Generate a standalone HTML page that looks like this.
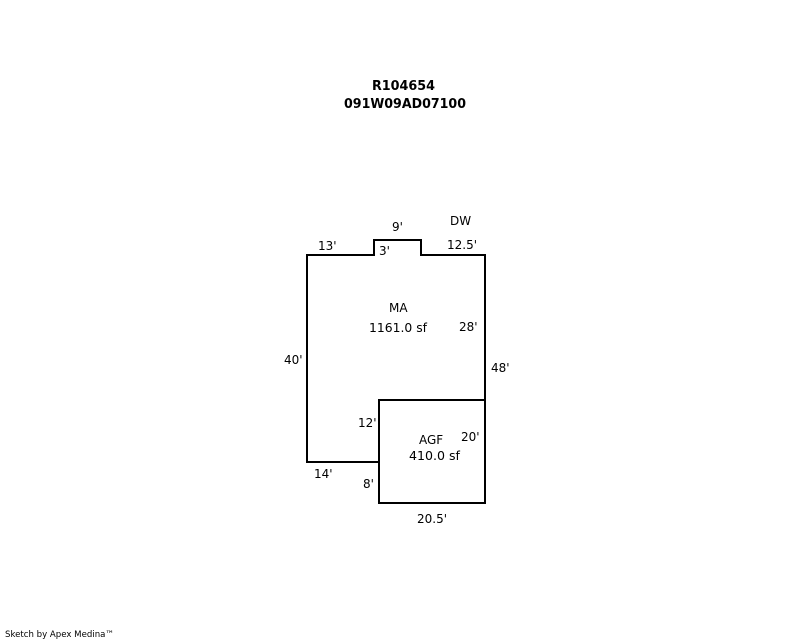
<!DOCTYPE html>
<html>
<head>
<meta charset="utf-8">
<style>
html,body{margin:0;padding:0;background:#fff;width:800px;height:640px;overflow:hidden}
svg{display:block}
text{font-family:"DejaVu Sans","Liberation Sans",sans-serif;font-size:12px;fill:#000}
.b{font-weight:bold;font-size:13px}
.s{font-size:9px}
</style>
</head>
<body>
<svg width="800" height="640" viewBox="0 0 800 640" xmlns="http://www.w3.org/2000/svg">
<g fill="none" stroke="#000" stroke-width="2" shape-rendering="crispEdges">
<path d="M307 255H374V240H421V255H485V503H379V462H307Z"/>
<path d="M379 462V400H485"/>
</g>
<text class="b" x="372" y="90" textLength="63" lengthAdjust="spacingAndGlyphs">R104654</text>
<text class="b" x="344" y="108" textLength="122" lengthAdjust="spacingAndGlyphs">091W09AD07100</text>
<text x="392" y="231">9'</text>
<text x="450" y="225">DW</text>
<text x="318" y="250">13'</text>
<text x="447" y="249">12.5'</text>
<text x="379" y="255">3'</text>
<text x="389" y="312">MA</text>
<text x="369" y="332" textLength="58" lengthAdjust="spacingAndGlyphs">1161.0 sf</text>
<text x="459" y="331">28'</text>
<text x="284" y="364">40'</text>
<text x="491" y="372">48'</text>
<text x="358" y="427">12'</text>
<text x="461" y="441">20'</text>
<text x="419" y="444">AGF</text>
<text x="409" y="460" textLength="51" lengthAdjust="spacingAndGlyphs">410.0 sf</text>
<text x="314" y="478">14'</text>
<text x="363" y="488">8'</text>
<text x="417" y="523">20.5'</text>
<text class="s" x="5" y="637" textLength="109" lengthAdjust="spacingAndGlyphs">Sketch by Apex Medina™</text>
</svg>
</body>
</html>
